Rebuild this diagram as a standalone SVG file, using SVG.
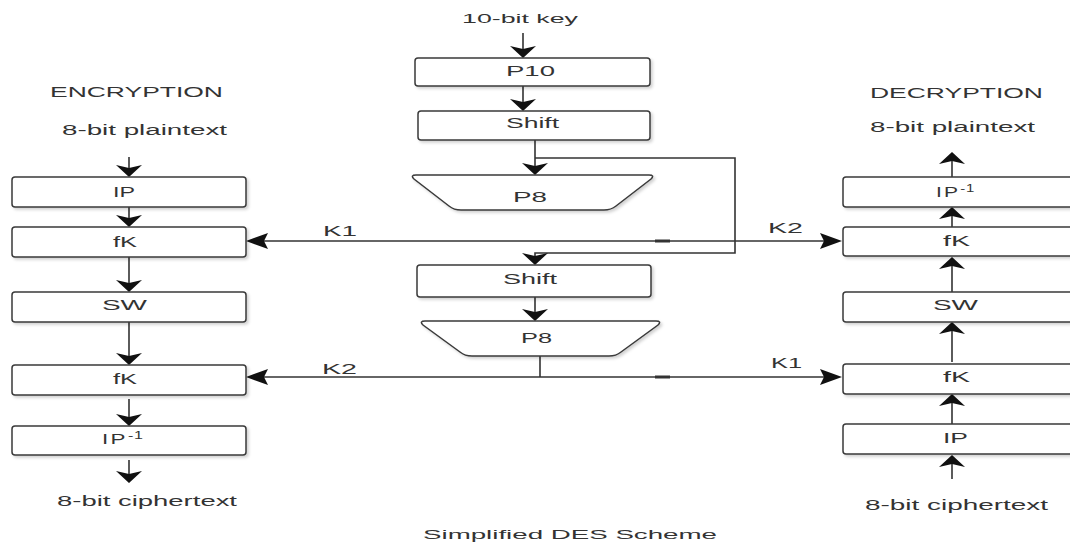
<svg xmlns="http://www.w3.org/2000/svg" width="1070" height="545" viewBox="0 0 1070 545">
<defs>
<filter id="sh" x="-5%" y="-20%" width="115%" height="160%">
<feDropShadow dx="2" dy="2" stdDeviation="1.5" flood-color="#000" flood-opacity="0.18"/>
</filter>
</defs>
<style>
.box{fill:#fff;stroke:#3a3a3a;stroke-width:1.5;filter:url(#sh)}
.t{font-family:"Liberation Sans",Arial,sans-serif;font-size:14px;fill:#333}
.s{font-size:13px}
.ln{fill:none;stroke:#333;stroke-width:1.6}
.ah{fill:#111}
.dash{stroke:#333;stroke-width:3}
</style>
<rect width="1070" height="545" fill="#fff"/>

<g id="connectors">
<!-- center -->
<line class="ln" x1="523" y1="33" x2="523" y2="50"/>
<polygon class="ah" points="510,46 523,49 536,46 523,58"/>
<line class="ln" x1="523" y1="86" x2="523" y2="103"/>
<polygon class="ah" points="510,99 523,102 536,99 523,111"/>
<line class="ln" x1="535" y1="140" x2="535" y2="167"/>
<polygon class="ah" points="522,163 535,166 548,163 535,175"/>
<polyline class="ln" points="535,158 735,158 735,253 535,253 535,256"/>
<polygon class="ah" points="522,253 535,256 548,253 535,265"/>
<line class="ln" x1="535" y1="297" x2="535" y2="312"/>
<polygon class="ah" points="522,309 535,312 548,309 535,321"/>
<line class="ln" x1="540" y1="356" x2="540" y2="377"/>
<!-- K lines -->
<line class="ln" x1="262" y1="241" x2="825" y2="241"/>
<polygon class="ah" points="268,233 264,241 268,249 246,241"/>
<polygon class="ah" points="820,233 824,241 820,249 842,241"/>
<line class="ln" x1="262" y1="377" x2="825" y2="377"/>
<polygon class="ah" points="268,369 264,377 268,385 246,377"/>
<polygon class="ah" points="820,369 824,377 820,385 842,377"/>
<line class="dash" x1="655" y1="241" x2="670" y2="241"/>
<line class="dash" x1="655" y1="377" x2="670" y2="377"/>
<!-- left column arrows -->
<line class="ln" x1="129" y1="157" x2="129" y2="170"/>
<polygon class="ah" points="116,165 129,168 142,165 129,177"/>
<line class="ln" x1="129" y1="207" x2="129" y2="220"/>
<polygon class="ah" points="116,215 129,218 142,215 129,227"/>
<line class="ln" x1="129" y1="257" x2="129" y2="285"/>
<polygon class="ah" points="116,280 129,283 142,280 129,292"/>
<line class="ln" x1="129" y1="322" x2="129" y2="358"/>
<polygon class="ah" points="116,353 129,356 142,353 129,365"/>
<line class="ln" x1="129" y1="399" x2="129" y2="419"/>
<polygon class="ah" points="116,414 129,417 142,414 129,426"/>
<line class="ln" x1="129" y1="460" x2="129" y2="476"/>
<polygon class="ah" points="116,471 129,474 142,471 129,483"/>
<!-- right column arrows (up) -->
<line class="ln" x1="952" y1="177" x2="952" y2="159"/>
<polygon class="ah" points="939,164 952,161 965,164 952,152"/>
<line class="ln" x1="952" y1="227" x2="952" y2="214"/>
<polygon class="ah" points="939,219 952,216 965,219 952,207"/>
<line class="ln" x1="952" y1="292" x2="952" y2="264"/>
<polygon class="ah" points="939,269 952,266 965,269 952,257"/>
<line class="ln" x1="952" y1="362" x2="952" y2="329"/>
<polygon class="ah" points="939,334 952,331 965,334 952,322"/>
<line class="ln" x1="952" y1="424" x2="952" y2="401"/>
<polygon class="ah" points="939,406 952,403 965,406 952,394"/>
<line class="ln" x1="952" y1="479" x2="952" y2="462"/>
<polygon class="ah" points="939,467 952,464 965,467 952,455"/>
</g>

<!-- center column -->
<g id="key-input"><text class="t s" x="462" y="23" textLength="116" lengthAdjust="spacingAndGlyphs">10-bit key</text></g>
<g id="p10"><rect class="box" x="415" y="58" width="235" height="28" rx="3"/><text class="t" x="506" y="76" textLength="49" lengthAdjust="spacingAndGlyphs">P10</text></g>
<g id="shift1"><rect class="box" x="418" y="111" width="232" height="29" rx="3"/><text class="t" x="506" y="128" textLength="53" lengthAdjust="spacingAndGlyphs">Shift</text></g>
<g id="p8-1"><path class="box" d="M416,175 L649,175 Q655,175 651,179 L616,206 Q611,210 604,210 L461,210 Q454,210 449,206 L414,179 Q410,175 416,175 Z"/><text class="t" x="513" y="202" textLength="34" lengthAdjust="spacingAndGlyphs">P8</text></g>
<g id="shift2"><rect class="box" x="417" y="265" width="234" height="32" rx="3"/><text class="t" x="503" y="284" textLength="54" lengthAdjust="spacingAndGlyphs">Shift</text></g>
<g id="p8-2"><path class="box" d="M425,321 L656,321 Q662,321 658,325 L621,352 Q616,356 609,356 L472,356 Q465,356 460,352 L423,325 Q419,321 425,321 Z"/><text class="t" x="521" y="343" textLength="31" lengthAdjust="spacingAndGlyphs">P8</text></g>

<g id="k-labels">
<text class="t" x="323" y="236" textLength="34" lengthAdjust="spacingAndGlyphs">K1</text>
<text class="t" x="768" y="233" textLength="35" lengthAdjust="spacingAndGlyphs">K2</text>
<text class="t" x="322" y="374" textLength="35" lengthAdjust="spacingAndGlyphs">K2</text>
<text class="t" x="771" y="368" textLength="31" lengthAdjust="spacingAndGlyphs">K1</text>
</g>

<!-- encryption column -->
<g id="enc-title"><text class="t" x="50" y="97" textLength="173" lengthAdjust="spacingAndGlyphs">ENCRYPTION</text></g>
<g id="enc-in"><text class="t" x="62" y="135" textLength="165" lengthAdjust="spacingAndGlyphs">8-bit plaintext</text></g>
<g id="enc-ip"><rect class="box" x="12" y="177" width="234" height="30" rx="3"/><text class="t" x="113" y="197" textLength="22" lengthAdjust="spacingAndGlyphs">IP</text></g>
<g id="enc-fk1"><rect class="box" x="12" y="227" width="234" height="30" rx="3"/><text class="t" x="113" y="247" textLength="24" lengthAdjust="spacingAndGlyphs">fK</text></g>
<g id="enc-sw"><rect class="box" x="12" y="292" width="234" height="30" rx="3"/><text class="t" x="102" y="310" textLength="45" lengthAdjust="spacingAndGlyphs">SW</text></g>
<g id="enc-fk2"><rect class="box" x="12" y="365" width="234" height="30" rx="3"/><text class="t" x="113" y="384" textLength="24" lengthAdjust="spacingAndGlyphs">fK</text></g>
<g id="enc-ipinv"><rect class="box" x="12" y="426" width="234" height="29" rx="3"/><text class="t" transform="translate(102,444) scale(1.6,1)" x="0" y="0" letter-spacing="1.5">IP<tspan font-size="10" dy="-5" letter-spacing="0.5">-1</tspan></text></g>
<g id="enc-out"><text class="t" x="57" y="506" textLength="180" lengthAdjust="spacingAndGlyphs">8-bit ciphertext</text></g>

<!-- decryption column -->
<g id="dec-title"><text class="t" x="870" y="98" textLength="173" lengthAdjust="spacingAndGlyphs">DECRYPTION</text></g>
<g id="dec-out"><text class="t" x="870" y="132" textLength="165" lengthAdjust="spacingAndGlyphs">8-bit plaintext</text></g>
<g id="dec-ipinv"><rect class="box" x="843" y="177" width="234" height="30" rx="3"/><text class="t" transform="translate(936,197) scale(1.5,1)" x="0" y="0" letter-spacing="1.5">IP<tspan font-size="10" dy="-5" letter-spacing="0.5">-1</tspan></text></g>
<g id="dec-fk1"><rect class="box" x="843" y="227" width="234" height="29" rx="3"/><text class="t" x="943" y="246" textLength="27" lengthAdjust="spacingAndGlyphs">fK</text></g>
<g id="dec-sw"><rect class="box" x="843" y="292" width="234" height="30" rx="3"/><text class="t" x="933" y="310" textLength="45" lengthAdjust="spacingAndGlyphs">SW</text></g>
<g id="dec-fk2"><rect class="box" x="843" y="364" width="234" height="30" rx="3"/><text class="t" x="943" y="382" textLength="27" lengthAdjust="spacingAndGlyphs">fK</text></g>
<g id="dec-ip"><rect class="box" x="843" y="424" width="234" height="30" rx="3"/><text class="t" x="943" y="443" textLength="25" lengthAdjust="spacingAndGlyphs">IP</text></g>
<g id="dec-in"><text class="t" x="865" y="510" textLength="183" lengthAdjust="spacingAndGlyphs">8-bit ciphertext</text></g>

<g id="caption"><text class="t s" x="423" y="539" textLength="294" lengthAdjust="spacingAndGlyphs">Simplified DES Scheme</text></g>
</svg>
